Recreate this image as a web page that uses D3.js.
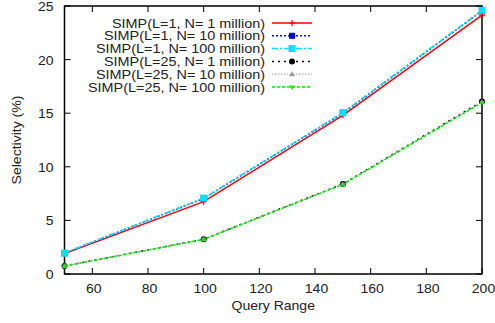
<!DOCTYPE html>
<html>
<head>
<meta charset="utf-8">
<script src="https://cdn.jsdelivr.net/npm/d3@7"></script>
<style>
body { margin: 0; background: #fff; }
text { font-family: "Liberation Sans", Arial, sans-serif; }
</style>
</head>
<body>
<div id="chart"></div>
<script>
// query ranges on the x axis
var ranges = [50, 100, 150, 200];
var xTicks = [60, 80, 100, 120, 140, 160, 180, 200];
var yTicks = [0, 5, 10, 15, 20, 25];

// selectivity (%) per series
var l1n1 = [1.9, 6.75, 14.8, 24.15];
var l1n10 = [1.95, 7.05, 15.0, 24.55];
var l1n100 = [1.95, 7.08, 15.05, 24.6];
var l25n1 = [0.75, 3.25, 8.4, 16.1];
var l25n10 = [0.75, 3.24, 8.38, 16.05];
var l25n100 = [0.74, 3.23, 8.36, 16.0];

var labels = [
	'SIMP(L=1, N= 1 million)',
	'SIMP(L=1, N= 10 million)',
	'SIMP(L=1, N= 100 million)',
	'SIMP(L=25, N= 1 million)',
	'SIMP(L=25, N= 10 million)',
	'SIMP(L=25, N= 100 million)'
];

var series = [
	{ name: labels[0], values: l1n1, color: '#ff0000', dash: null, width: 1.5, mark: 'plus' },
	{ name: labels[1], values: l1n10, color: '#0000ff', dash: '2,2', width: 1.5, mark: 'square' },
	{ name: labels[2], values: l1n100, color: '#00e0ff', dash: '6,2,2,2', width: 1.5, mark: 'bigsquare' },
	{ name: labels[3], values: l25n1, color: '#000000', dash: '2,4', width: 1.5, mark: 'circle' },
	{ name: labels[4], values: l25n10, color: '#999999', dash: '1.5,1.5', width: 1, mark: 'tri' },
	{ name: labels[5], values: l25n100, color: '#00ee00', dash: '3,2', width: 1.5, mark: 'tridown' }
];

var width = 495,
    height = 323,
    margin = { top: 6, right: 13, bottom: 49, left: 64.5 },
    sx = 1.08; // text is a bit wider than Liberation Sans

var svg = d3.select('#chart').append('svg')
	.attr('width', width)
	.attr('height', height);

var x = d3.scaleLinear().domain([50, 200]).range([margin.left, width - margin.right]);
var y = d3.scaleLinear().domain([0, 25]).range([height - margin.bottom, margin.top]);

function label(g, tx, ty, anchor, str, rot, k) {
	return g.append('text')
		.attr('transform', 'translate(' + tx + ',' + ty + ')' + (rot ? ' rotate(-90)' : '') + ' scale(' + (k || sx) + ',1)')
		.attr('text-anchor', anchor)
		.attr('font-size', 13)
		.attr('fill', '#222')
		.text(str);
}

// frame
svg.append('rect')
	.attr('x', x(50)).attr('y', y(25))
	.attr('width', x(200) - x(50)).attr('height', y(0) - y(25))
	.attr('fill', 'none').attr('stroke', '#000').attr('stroke-width', 1.5);

// ticks (inward, mirrored)
var tl = 6;
svg.append('g').selectAll('line').data(xTicks).enter().append('line')
	.attr('x1', function(d) { return x(d); }).attr('x2', function(d) { return x(d); })
	.attr('y1', y(0)).attr('y2', y(0) - tl)
	.attr('stroke', '#000');
svg.append('g').selectAll('line').data(xTicks).enter().append('line')
	.attr('x1', function(d) { return x(d); }).attr('x2', function(d) { return x(d); })
	.attr('y1', y(25)).attr('y2', y(25) + tl)
	.attr('stroke', '#000');
svg.append('g').selectAll('line').data(yTicks).enter().append('line')
	.attr('x1', x(50)).attr('x2', x(50) + tl)
	.attr('y1', function(d) { return y(d); }).attr('y2', function(d) { return y(d); })
	.attr('stroke', '#000');
svg.append('g').selectAll('line').data(yTicks).enter().append('line')
	.attr('x1', x(200)).attr('x2', x(200) - tl)
	.attr('y1', function(d) { return y(d); }).attr('y2', function(d) { return y(d); })
	.attr('stroke', '#000');

// tick labels
var tg = svg.append('g');
xTicks.forEach(function(d) { label(tg, x(d) + 1.5, y(0) + 19, 'middle', d); });
yTicks.forEach(function(d) { label(tg, x(50) - 11, y(d) + 5, 'end', d); });

// axis titles
label(svg, (x(50) + x(200)) / 2, 310, 'middle', 'Query Range');
label(svg, 21, (y(0) + y(25)) / 2, 'middle', 'Selectivity (%)', true);

function drawMark(g, type, cx, cy, color) {
	if (type === 'plus') {
		g.append('path').attr('d', 'M' + (cx - 3) + ',' + cy + 'H' + (cx + 3) + 'M' + cx + ',' + (cy - 3) + 'V' + (cy + 3))
			.attr('stroke', color).attr('stroke-width', 1.2);
	} else if (type === 'square') {
		g.append('rect').attr('x', cx - 3).attr('y', cy - 3).attr('width', 6).attr('height', 6).attr('fill', color);
	} else if (type === 'bigsquare') {
		g.append('rect').attr('x', cx - 3.5).attr('y', cy - 3.5).attr('width', 7).attr('height', 7).attr('fill', color);
	} else if (type === 'circle') {
		g.append('circle').attr('cx', cx).attr('cy', cy).attr('r', 3).attr('fill', color);
	} else if (type === 'tri') {
		g.append('path').attr('d', 'M' + cx + ',' + (cy - 3) + 'L' + (cx + 3) + ',' + (cy + 2) + 'L' + (cx - 3) + ',' + (cy + 2) + 'Z')
			.attr('fill', color);
	} else if (type === 'tridown') {
		g.append('path').attr('d', 'M' + cx + ',' + (cy + 3) + 'L' + (cx + 2.5) + ',' + (cy - 1.5) + 'L' + (cx - 2.5) + ',' + (cy - 1.5) + 'Z')
			.attr('fill', color);
	}
}

var line = d3.line()
	.x(function(d, i) { return x(ranges[i]); })
	.y(function(d) { return y(d); });

var plot = svg.append('g');
series.forEach(function(s) {
	plot.append('path')
		.datum(s.values)
		.attr('d', line)
		.attr('fill', 'none')
		.attr('stroke', s.color)
		.attr('stroke-width', s.width)
		.attr('stroke-dasharray', s.dash);
	s.values.forEach(function(v, i) {
		drawMark(plot, s.mark, x(ranges[i]), y(v), s.color);
	});
});

// legend
var legX = 265, legY = 23, legStep = 12.8;
var leg = svg.append('g');
series.forEach(function(s, i) {
	var ly = legY + i * legStep;
	label(leg, legX, ly + 4.5, 'end', s.name, false, 1.11);
	leg.append('line')
		.attr('x1', 272).attr('x2', 312)
		.attr('y1', ly).attr('y2', ly)
		.attr('stroke', s.color)
		.attr('stroke-width', s.width)
		.attr('stroke-dasharray', s.dash);
	drawMark(leg, s.mark, 292, ly, s.color);
});
</script>
</body>
</html>
